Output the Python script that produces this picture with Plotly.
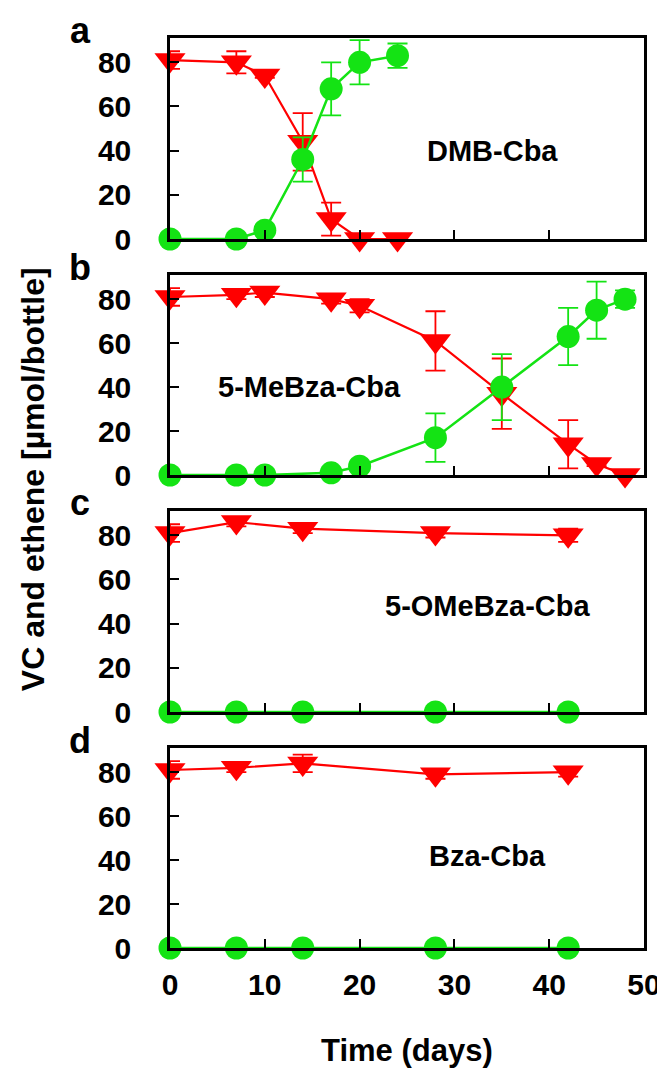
import plotly.graph_objects as go

# ---------------- data ----------------
panel_names = ["DMB-Cba", "5-MeBza-Cba", "5-OMeBza-Cba", "Bza-Cba"]
panel_letters = ["a", "b", "c", "d"]

days_a = [0, 7, 10, 14, 17, 20, 24]
vc_a = [81, 80, 74, 44, 9, 0, 0]
vc_a_err = [4, 5, 1, 13, 7.5, 0, 0]
eth_a = [0, 0, 4, 36, 68, 80, 83]
eth_a_err = [0, 0, 1, 10, 12, 10, 5.5]

days_b = [0, 7, 10, 17, 20, 28, 35, 42, 45, 48]
vc_b = [81, 82, 83, 80, 77, 61, 37, 14, 5, 0]
vc_b_err = [4, 2, 2, 2, 3, 13.5, 16, 11, 1, 0]
eth_b = [0, 0, 0, 1, 4, 17, 40, 63, 75, 80]
eth_b_err = [0, 0, 0, 1, 1, 11, 15, 13, 13, 4]

days_c = [0, 7, 14, 28, 42]
vc_c = [81, 86, 83, 81, 80]
vc_c_err = [4, 2, 2, 2, 3]
eth_c = [0, 0, 0, 0, 0]
eth_c_err = [0, 0, 0, 0, 0]

days_d = [0, 7, 14, 28, 42]
vc_d = [81, 82, 84, 79, 80]
vc_d_err = [4, 2, 4, 2, 2]
eth_d = [0, 0, 0, 0, 0]
eth_d_err = [0, 0, 0, 0, 0]

label_pos_x = [34, 14.7, 33.5, 33.5]
label_pos_y = [40, 40, 48, 42]

x_ticks = [0, 10, 20, 30, 40, 50]
y_ticks = [0, 20, 40, 60, 80]

panels = [
    (days_a, vc_a, vc_a_err, eth_a, eth_a_err),
    (days_b, vc_b, vc_b_err, eth_b, eth_b_err),
    (days_c, vc_c, vc_c_err, eth_c, eth_c_err),
    (days_d, vc_d, vc_d_err, eth_d, eth_d_err),
]

# ---------------- styling ----------------
RED = "#FF0000"
GREEN = "#14E314"
FONT = "Liberation Sans, Arial, sans-serif"

W, H = 665, 1071
ML, MR, MT, MB = 162, 18, 30, 131
plot_h = H - MT - MB
plot_w = W - ML - MR
# pixel (top, bottom) of each panel
panel_px = [(30, 231), (267, 467), (503, 704), (740, 940)]


def frac(p):
    return (H - MB - p) / plot_h


fig = go.Figure()
annotations = []

for i, (days, vc, vce, eth, ethe) in enumerate(panels):
    n = i + 1
    xa = "x" if n == 1 else f"x{n}"
    ya = "y" if n == 1 else f"y{n}"
    fig.add_trace(go.Scatter(
        x=days, y=vc, xaxis=xa, yaxis=ya, mode="lines+markers",
        line=dict(color=RED, width=2.2),
        marker=dict(symbol="triangle-down", size=27, color=RED),
        error_y=dict(type="data", array=vce, visible=True, color=RED,
                     thickness=1.8, width=10),
        cliponaxis=False, showlegend=False))
    fig.add_trace(go.Scatter(
        x=days, y=eth, xaxis=xa, yaxis=ya, mode="lines+markers",
        line=dict(color=GREEN, width=2.5),
        marker=dict(symbol="circle", size=23, color=GREEN),
        error_y=dict(type="data", array=ethe, visible=True, color=GREEN,
                     thickness=1.8, width=10),
        cliponaxis=False, showlegend=False))

    top, bot = panel_px[i]
    dom = [frac(bot), frac(top)]
    axis_common = dict(showline=True, mirror=True, linecolor="black", linewidth=2.5,
                       ticks="inside", ticklen=9, tickwidth=2.2, tickcolor="black",
                       showgrid=False, zeroline=False,
                       tickfont=dict(family=FONT, size=30, color="black", weight="bold"))
    xkey = "xaxis" if n == 1 else f"xaxis{n}"
    ykey = "yaxis" if n == 1 else f"yaxis{n}"
    fig.update_layout(**{
        xkey: dict(axis_common, domain=[0, 1], range=[0, 50], tickvals=x_ticks,
                   showticklabels=(n == 4), anchor=ya, ticklabelstandoff=8),
        ykey: dict(axis_common, domain=dom, range=[0, 91], tickvals=y_ticks,
                   anchor=xa, ticklabelstandoff=30),
    })

    annotations.append(dict(x=label_pos_x[i], y=label_pos_y[i], xref=xa, yref=ya,
                            text=panel_names[i], showarrow=False,
                            font=dict(family=FONT, size=29, color="black", weight="bold")))
    annotations.append(dict(x=(70 - ML) / plot_w, y=frac(top - 8), xref="paper", yref="paper",
                            text=panel_letters[i], showarrow=False, xanchor="center",
                            yanchor="middle",
                            font=dict(family=FONT, size=36, color="black", weight="bold")))

annotations.append(dict(x=(22 - ML) / plot_w, y=frac(471), xref="paper", yref="paper",
                        text="VC and ethene [µmol/bottle]", textangle=-90, showarrow=False,
                        xanchor="center", yanchor="middle",
                        font=dict(family=FONT, size=32, color="black", weight="bold")))
annotations.append(dict(x=0.5, y=frac(1042), xref="paper", yref="paper",
                        text="Time (days)", showarrow=False, xanchor="center", yanchor="middle",
                        font=dict(family=FONT, size=31, color="black", weight="bold")))

fig.update_layout(width=W, height=H, margin=dict(l=ML, r=MR, t=MT, b=MB),
                  paper_bgcolor="white", plot_bgcolor="white",
                  annotations=annotations, showlegend=False)

fig.write_html("out.html")
